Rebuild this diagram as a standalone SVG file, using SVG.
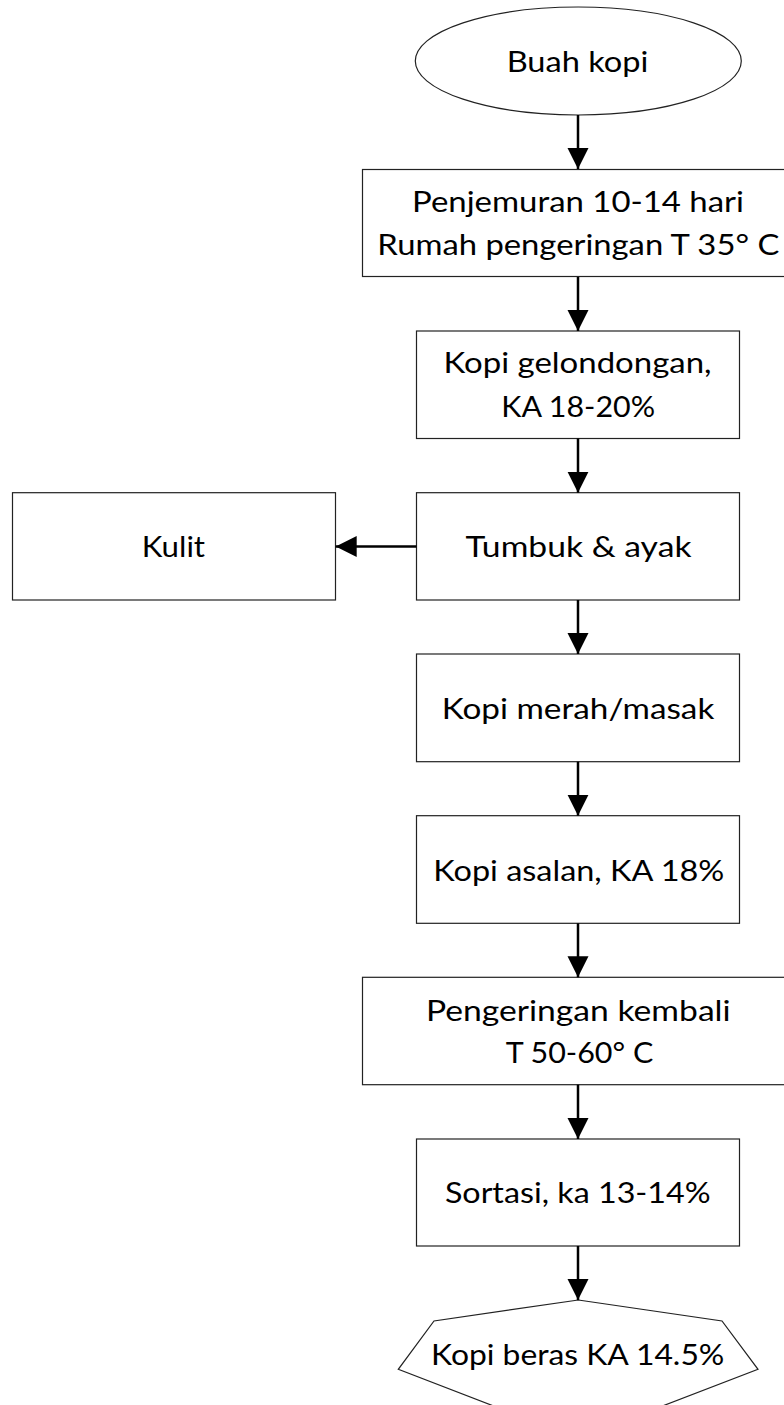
<svg xmlns="http://www.w3.org/2000/svg" width="784" height="1405" viewBox="0 0 784 1405">
<style>
.box{fill:#fff;stroke:#222;stroke-width:1.2}
.lbl{font-family:Lato,"Open Sans","Liberation Sans",sans-serif;font-size:28px;fill:#000;text-anchor:middle}
.conn{stroke:#000;stroke-width:2.5;fill:none}
</style>
<defs>
<marker id="ah" markerUnits="userSpaceOnUse" markerWidth="22" markerHeight="22" refX="21" refY="10.5" orient="auto">
<path d="M0,0 L21,10.5 L0,21 Z" fill="#000"/>
</marker>
</defs>
<rect width="784" height="1405" fill="#fff"/>
<g id="n-buah">
<ellipse class="box" cx="578.3" cy="61" rx="163" ry="54"/>
<text class="lbl" x="577.5" y="71.7" textLength="141.7" lengthAdjust="spacingAndGlyphs">Buah kopi</text>
</g>
<g id="n-penjemuran">
<rect class="box" x="362.5" y="169.5" width="432" height="107"/>
<text class="lbl" x="578" y="211.7" textLength="332" lengthAdjust="spacingAndGlyphs">Penjemuran 10-14 hari</text>
<text class="lbl" x="578.3" y="255" textLength="402" lengthAdjust="spacingAndGlyphs">Rumah pengeringan T 35° C</text>
</g>
<g id="n-gelondongan">
<rect class="box" x="416.5" y="331" width="323" height="107.5"/>
<text class="lbl" x="577.5" y="372.7" textLength="268" lengthAdjust="spacingAndGlyphs">Kopi gelondongan,</text>
<text class="lbl" x="578.2" y="416.7" textLength="153.7" lengthAdjust="spacingAndGlyphs">KA 18-20%</text>
</g>
<g id="n-tumbuk">
<rect class="box" x="416.5" y="492.7" width="323" height="107.3"/>
<text class="lbl" x="578.5" y="557" textLength="226" lengthAdjust="spacingAndGlyphs">Tumbuk &amp; ayak</text>
</g>
<g id="n-kulit">
<rect class="box" x="12.5" y="492.7" width="323" height="107.3"/>
<text class="lbl" x="173.4" y="557" textLength="63.3" lengthAdjust="spacingAndGlyphs">Kulit</text>
</g>
<g id="n-merah">
<rect class="box" x="416.5" y="654" width="323" height="107.7"/>
<text class="lbl" x="578" y="719" textLength="272.7" lengthAdjust="spacingAndGlyphs">Kopi merah/masak</text>
</g>
<g id="n-asalan">
<rect class="box" x="416.5" y="815.7" width="323" height="107.6"/>
<text class="lbl" x="578.8" y="880.7" textLength="291" lengthAdjust="spacingAndGlyphs">Kopi asalan, KA 18%</text>
</g>
<g id="n-pengeringan">
<rect class="box" x="362.5" y="977.3" width="432" height="107.4"/>
<text class="lbl" x="578.3" y="1020.7" textLength="304.7" lengthAdjust="spacingAndGlyphs">Pengeringan kembali</text>
<text class="lbl" x="579.5" y="1063.3" textLength="147.7" lengthAdjust="spacingAndGlyphs">T 50-60° C</text>
</g>
<g id="n-sortasi">
<rect class="box" x="416.5" y="1139" width="323" height="107"/>
<text class="lbl" x="577.8" y="1203.3" textLength="265.7" lengthAdjust="spacingAndGlyphs">Sortasi, ka 13-14%</text>
</g>
<g id="n-beras">
<polygon class="box" points="578.3,1300 722,1321 758,1369.3 626,1420 530,1420 398.3,1369.3 434,1321"/>
<text class="lbl" x="577.7" y="1365" textLength="293.3" lengthAdjust="spacingAndGlyphs">Kopi beras KA 14.5%</text>
</g>
<g id="connectors">
<line class="conn" x1="578" y1="115" x2="578" y2="169" marker-end="url(#ah)"/>
<line class="conn" x1="578" y1="277" x2="578" y2="331" marker-end="url(#ah)"/>
<line class="conn" x1="578" y1="438.5" x2="578" y2="492.7" marker-end="url(#ah)"/>
<line class="conn" x1="578" y1="600" x2="578" y2="654" marker-end="url(#ah)"/>
<line class="conn" x1="578" y1="761.7" x2="578" y2="815.7" marker-end="url(#ah)"/>
<line class="conn" x1="578" y1="923.3" x2="578" y2="977.3" marker-end="url(#ah)"/>
<line class="conn" x1="578" y1="1084.7" x2="578" y2="1139" marker-end="url(#ah)"/>
<line class="conn" x1="578" y1="1246" x2="578" y2="1300" marker-end="url(#ah)"/>
<line class="conn" x1="416.5" y1="546.5" x2="335.7" y2="546.5" marker-end="url(#ah)"/>
</g>
</svg>
